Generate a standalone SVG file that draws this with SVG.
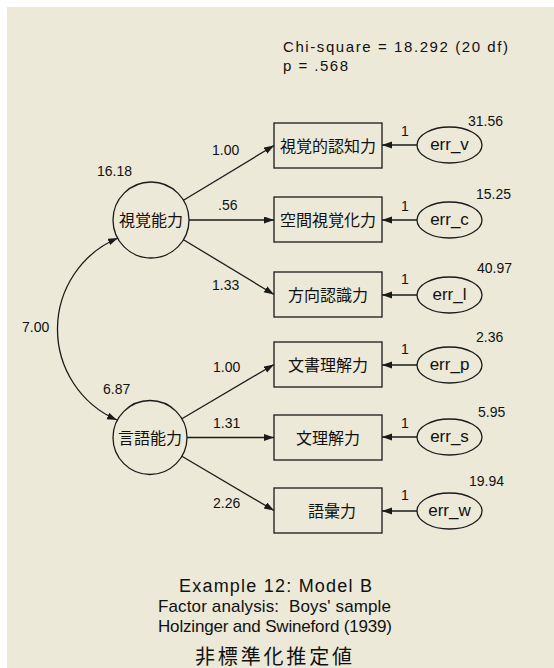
<svg xmlns="http://www.w3.org/2000/svg" width="554" height="668" viewBox="0 0 554 668">
<defs>
<marker id="ah" markerUnits="userSpaceOnUse" markerWidth="11" markerHeight="8" refX="10" refY="3.5" orient="auto-start-reverse" viewBox="0 0 11 8">
<path d="M0,0 L10,3.5 L0,7 z" fill="#1a1a1a"/>
</marker>
</defs>
<style>
.bg{fill:#ECE9D8}
.box{fill:none;stroke:#1a1a1a;stroke-width:1.3}
.lat{fill:none;stroke:#1a1a1a;stroke-width:1.3}
.ln{fill:none;stroke:#1a1a1a;stroke-width:1.3;marker-end:url(#ah)}
.t{font-family:"Liberation Sans",Arial,sans-serif;font-size:14px;fill:#111}
.e{font-family:"Liberation Sans",Arial,sans-serif;font-size:17px;fill:#111;text-anchor:middle}
.j{font-family:"Liberation Sans","Noto Sans CJK JP",sans-serif;font-size:16px;fill:#111;text-anchor:middle}
.cap{font-family:"Liberation Sans","Noto Sans CJK JP",sans-serif;font-size:17px;fill:#111;text-anchor:middle}
</style>
<rect width="554" height="668" fill="#ffffff"/>
<rect class="bg" x="7" y="7" width="547" height="661"/>

<g id="connectors">
<path class="ln" d="M183.5,200.3 L274,145.5"/>
<path class="ln" d="M189,220 L274,220"/>
<path class="ln" d="M183.5,239.7 L274,294.5"/>
<path class="ln" d="M181.9,418.7 L274,364.5"/>
<path class="ln" d="M187,437.5 L274,437.5"/>
<path class="ln" d="M181.9,456.3 L274,510.5"/>
<path class="ln" d="M417,145 L382,145"/>
<path class="ln" d="M417,220 L382,220"/>
<path class="ln" d="M417,295 L382,295"/>
<path class="ln" d="M417,365 L382,365"/>
<path class="ln" d="M417,437 L382,437"/>
<path class="ln" d="M417,511 L382,511"/>
<path class="ln" style="marker-start:url(#ah)" d="M118,238 A99,99 0 0,0 117,420"/>
<text class="t" x="212" y="155">1.00</text>
<text class="t" x="218" y="210">.56</text>
<text class="t" x="212" y="290">1.33</text>
<text class="t" x="213" y="372">1.00</text>
<text class="t" x="213" y="428">1.31</text>
<text class="t" x="213" y="508">2.26</text>
<text class="t" x="22" y="332">7.00</text>
<text class="t" x="405" y="136" text-anchor="middle">1</text>
<text class="t" x="405" y="211" text-anchor="middle">1</text>
<text class="t" x="405" y="284" text-anchor="middle">1</text>
<text class="t" x="405" y="354" text-anchor="middle">1</text>
<text class="t" x="405" y="428" text-anchor="middle">1</text>
<text class="t" x="405" y="500" text-anchor="middle">1</text>
</g>

<g id="visual">
<circle class="lat" cx="151" cy="220" r="38"/>
<text class="j" x="151" y="226">視覚能力</text>
<text class="t" x="97" y="176">16.18</text>
</g>
<g id="verbal">
<circle class="lat" cx="150" cy="437.5" r="37"/>
<text class="j" x="150" y="443.5">言語能力</text>
<text class="t" x="103" y="394">6.87</text>
</g>

<g id="visperc">
<rect class="box" x="274" y="123" width="108" height="45"/>
<text class="j" x="328" y="151.5">視覚的認知力</text>
</g>
<g id="cubes">
<rect class="box" x="274" y="197" width="108" height="45"/>
<text class="j" x="328" y="226">空間視覚化力</text>
</g>
<g id="lozenges">
<rect class="box" x="274" y="272" width="108" height="45"/>
<text class="j" x="328" y="300.5">方向認識力</text>
</g>
<g id="paragraph">
<rect class="box" x="274" y="342" width="108" height="45"/>
<text class="j" x="328" y="370.5">文書理解力</text>
</g>
<g id="sentence">
<rect class="box" x="274" y="415" width="108" height="45"/>
<text class="j" x="328" y="443.5">文理解力</text>
</g>
<g id="wordmean">
<rect class="box" x="274" y="488" width="108" height="45"/>
<text class="j" x="332" y="516.5">語彙力</text>
</g>

<g id="err_v">
<ellipse class="lat" cx="449.5" cy="145" rx="32.5" ry="18"/>
<text class="e" x="449.5" y="150">err_v</text>
<text class="t" x="468" y="126">31.56</text>
</g>
<g id="err_c">
<ellipse class="lat" cx="449.5" cy="220" rx="32.5" ry="18"/>
<text class="e" x="449.5" y="225">err_c</text>
<text class="t" x="476" y="199">15.25</text>
</g>
<g id="err_l">
<ellipse class="lat" cx="449.5" cy="295" rx="32.5" ry="18"/>
<text class="e" x="449.5" y="300">err_l</text>
<text class="t" x="477" y="273">40.97</text>
</g>
<g id="err_p">
<ellipse class="lat" cx="449.5" cy="365" rx="32.5" ry="18"/>
<text class="e" x="449.5" y="370">err_p</text>
<text class="t" x="476" y="342">2.36</text>
</g>
<g id="err_s">
<ellipse class="lat" cx="449.5" cy="437" rx="32.5" ry="18"/>
<text class="e" x="449.5" y="442">err_s</text>
<text class="t" x="478" y="417">5.95</text>
</g>
<g id="err_w">
<ellipse class="lat" cx="449.5" cy="511" rx="32.5" ry="18"/>
<text class="e" x="449.5" y="516">err_w</text>
<text class="t" x="469" y="486">19.94</text>
</g>

<g id="fit">
<text class="t" x="283" y="52" style="font-size:15px" textLength="225" lengthAdjust="spacing">Chi-square = 18.292 (20 df)</text>
<text class="t" x="283" y="71" style="font-size:15px" textLength="65" lengthAdjust="spacing">p = .568</text>
</g>

<g id="caption">
<text class="cap" x="275.5" y="592" style="font-size:18px" textLength="193" lengthAdjust="spacing">Example 12: Model B</text>
<text class="cap" x="274.5" y="612" textLength="233" lengthAdjust="spacing" xml:space="preserve">Factor analysis:  Boys' sample</text>
<text class="cap" x="275" y="632" textLength="234" lengthAdjust="spacing">Holzinger and Swineford (1939)</text>
<text class="cap" x="273.5" y="664" style="font-size:20px" textLength="157" lengthAdjust="spacing">非標準化推定値</text>
</g>
</svg>
